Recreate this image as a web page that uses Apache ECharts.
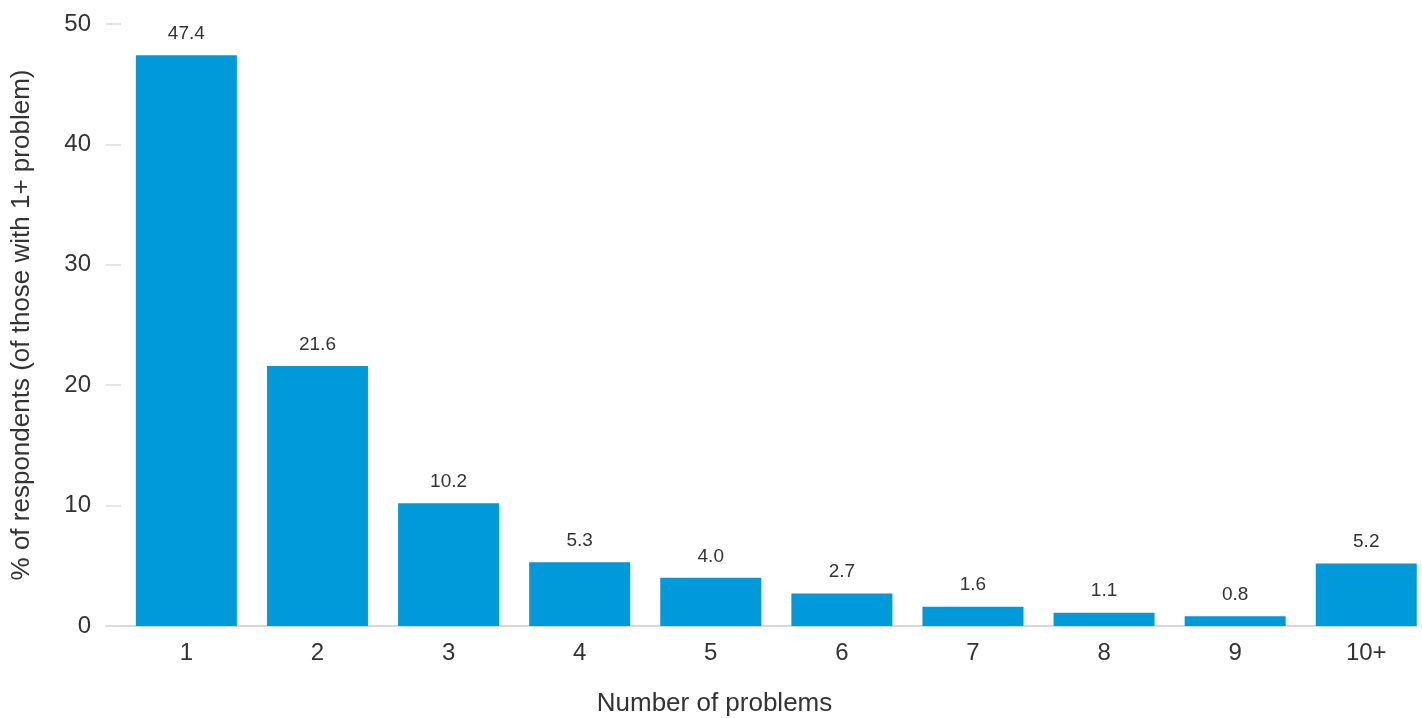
<!DOCTYPE html>
<html>
<head>
<meta charset="utf-8">
<title>Number of problems</title>
<script src="https://cdn.jsdelivr.net/npm/echarts@6/dist/echarts.min.js"></script>
<style>
  html, body { margin: 0; padding: 0; background: #ffffff; }
  #chart { width: 1422px; height: 718px; }
</style>
</head>
<body>
<div id="chart"></div>
<script>
// Share of respondents by number of problems reported
const categories = ['1', '2', '3', '4', '5', '6', '7', '8', '9', '10+'];
const shares = [47.4, 21.6, 10.2, 5.3, 4.0, 2.7, 1.6, 1.1, 0.8, 5.2];
const yTicks = [0, 10, 20, 30, 40, 50];

const FONT = '"Liberation Sans", Arial, Helvetica, sans-serif';
const TEXT = '#333333';
const BAR = '#009ADA';

// category positions on a numeric axis (1..N) so the bars can sit with wider side padding
const positions = categories.map((_, i) => i + 1);
const barData = shares.map((v, i) => [positions[i], v]);

const chart = echarts.init(document.getElementById('chart'), null, { renderer: 'canvas' });

chart.setOption({
  animation: false,
  backgroundColor: '#ffffff',
  textStyle: { fontFamily: FONT },
  grid: {
    left: 106, width: 1311, top: 24, bottom: 92,
    containLabel: false,
    outerBoundsMode: 'none'
  },
  xAxis: {
    type: 'value',
    min: 0.387,
    max: 10.387,
    axisLine: { show: true, lineStyle: { color: '#cccccc', width: 1.5 } },
    axisTick: { show: false },
    splitLine: { show: false },
    axisLabel: {
      color: TEXT,
      fontSize: 24,
      fontFamily: FONT,
      margin: 15,
      customValues: positions,
      formatter: (v) => categories[Math.round(v) - 1]
    },
    name: 'Number of problems',
    nameLocation: 'middle',
    nameGap: 65,
    nameTextStyle: { color: TEXT, fontSize: 26, fontFamily: FONT, padding: [0, 94, 0, 0] }
  },
  yAxis: {
    type: 'value',
    min: yTicks[0],
    max: yTicks[yTicks.length - 1],
    interval: yTicks[1] - yTicks[0],
    axisLine: { show: false },
    axisTick: { show: true, inside: true, length: 15, lineStyle: { color: '#dddddd', width: 1.5 } },
    splitLine: { show: false },
    axisLabel: { color: TEXT, fontSize: 24, fontFamily: FONT, margin: 15 },
    name: '% of respondents (of those with 1+ problem)',
    nameLocation: 'middle',
    nameGap: 71,
    nameTextStyle: { color: TEXT, fontSize: 26, fontFamily: FONT }
  },
  series: [
    {
      type: 'bar',
      data: barData,
      barWidth: 101,
      itemStyle: { color: BAR },
      label: {
        show: true,
        position: 'top',
        distance: 12,
        color: TEXT,
        fontSize: 19,
        fontFamily: FONT,
        formatter: (p) => p.value[1].toFixed(1)
      }
    }
  ]
});
</script>
</body>
</html>
